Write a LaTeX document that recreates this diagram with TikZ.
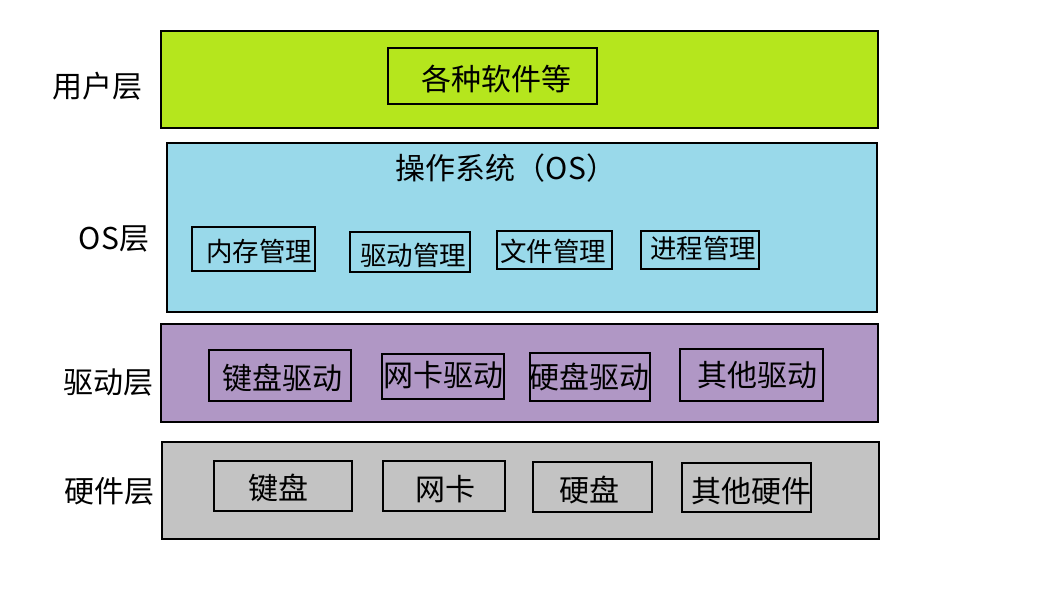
\documentclass[tikz,border=0pt]{standalone}
\usepackage{fontspec}
\setmainfont{Noto Sans CJK SC}
\definecolor{usergreen}{HTML}{B5E61D}
\definecolor{osblue}{HTML}{99D9EA}
\definecolor{drvpurple}{HTML}{B097C5}
\definecolor{hwgray}{HTML}{C3C3C3}
\tikzset{
  layer/.style={draw=black, line width=2pt, anchor=north west, inner sep=0pt},
  item/.style={draw=black, line width=1.5pt, anchor=north west, inner sep=0pt},
  txt/.style={inner sep=0pt, font=\fontsize{30}{32}\selectfont, text=black},
  stxt/.style={inner sep=0pt, font=\fontsize{26.5}{28}\selectfont, text=black},
}
\newcommand{\boxat}[6][item]{% style, name, x1,y1,x2,y2
  \node[#1, minimum width={(#5-#3)*1pt}, minimum height={(#6-#4)*1pt}] (#2) at (#3,#4) {};}
\begin{document}
\begin{tikzpicture}[x=1pt,y=-1pt]
\useasboundingbox (0,0) rectangle (1041,589);
% layers
\boxat[layer,fill=usergreen]{user}{160}{30}{877}{127}
\boxat[layer,fill=osblue,line width=1.5pt]{os}{166}{142}{876}{311}
\boxat[layer,fill=drvpurple]{drv}{160}{323}{877}{421}
\boxat[layer,fill=hwgray]{hw}{161}{441}{878}{538}
% layer labels
\node[txt] (luser) at (97,86) {用户层};
\node[txt] (los) at (114,239) {OS层};
\node[txt] (ldrv) at (108,382) {驱动层};
\node[txt] (lhw) at (109,491) {硬件层};
% user layer
\boxat{soft}{387}{47}{596}{103}
\node[txt] (tsoft) at (496,79) {各种软件等};
% OS layer
\node[txt] (tos) at (506,168) {操作系统（OS）};
\boxat{mem}{191}{226}{314}{270}
\node[stxt] (tmem) at (259,251) {内存管理};
\boxat{dm}{349}{231}{469}{271}
\node[stxt] (tdm) at (413,255) {驱动管理};
\boxat{fm}{496}{230}{611}{268}
\node[stxt] (tfm) at (553,251) {文件管理};
\boxat{pm}{640}{230}{758}{268}
\node[stxt] (tpm) at (703,248) {进程管理};
% driver layer
\boxat{kbd}{208}{349}{350}{400}
\node[txt] (tkbd) at (282,378) {键盘驱动};
\boxat{nicd}{381}{353}{503}{398}
\node[txt] (tnicd) at (443,375) {网卡驱动};
\boxat{hdd}{529}{352}{649}{400}
\node[txt] (thdd) at (589,377) {硬盘驱动};
\boxat{othd}{679}{348}{822}{400}
\node[txt] (tothd) at (757,375) {其他驱动};
% hardware layer
\boxat{kb}{213}{460}{351}{510}
\node[txt] (tkb) at (278,488) {键盘};
\boxat{nic}{382}{460}{504}{510}
\node[txt] (tnic) at (445,489) {网卡};
\boxat{hd}{532}{461}{651}{511}
\node[txt] (thd) at (589,490) {硬盘};
\boxat{oth}{681}{462}{810}{511}
\node[txt] (toth) at (751,491) {其他硬件};
\end{tikzpicture}
\end{document}
